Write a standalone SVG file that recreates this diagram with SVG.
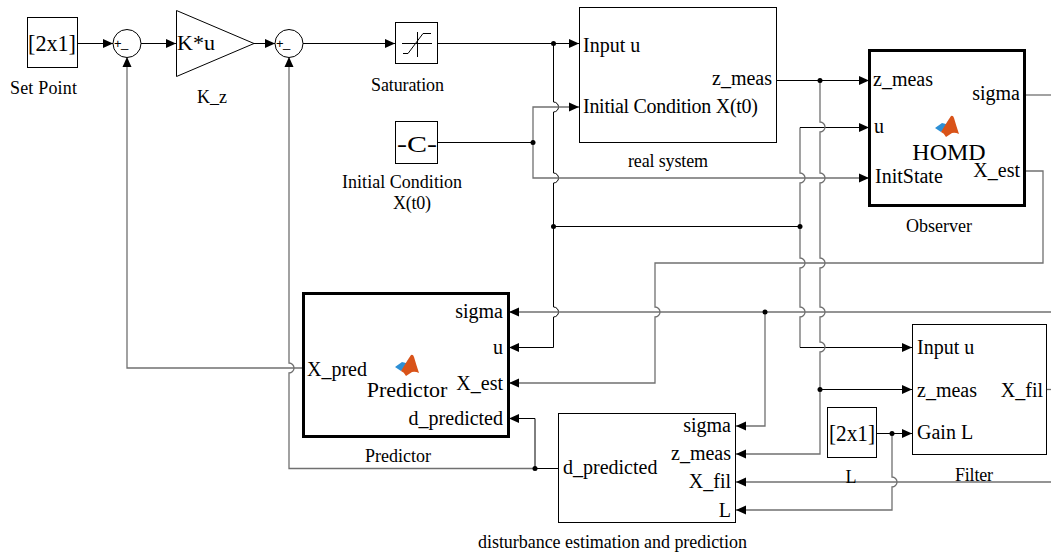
<svg xmlns="http://www.w3.org/2000/svg" width="1051" height="557" viewBox="0 0 1051 557" font-family="'Liberation Serif','Times New Roman',serif">
<style>
.ln{fill:none;stroke:#000;stroke-width:1}
.lg{fill:none;stroke:#707070;stroke-width:1.3}
.blk{fill:#fff;stroke:#000;stroke-width:1}
.thk{fill:#fff;stroke:#000;stroke-width:3}
.dot{fill:#000}
text{font-family:"Liberation Serif","Times New Roman",serif;fill:#000}
.p{font-size:20px}
.n{font-size:18px}
.r{text-anchor:end}
.m{text-anchor:middle}
.s{font-family:"Liberation Sans",Arial,sans-serif;font-size:13px}
</style>
<defs>
<marker id="ah" markerUnits="userSpaceOnUse" markerWidth="10" markerHeight="10" viewBox="0 0 10 10" refX="10" refY="5" orient="auto"><path d="M0,0.5 L10,5 L0,9.5Z" fill="#000"/></marker>
<g id="ml">
<path d="M0,13 L7,8 L11,9 L14,4 L9,14 L6,17Z" fill="#2d8fd5"/>
<path d="M6,17 L14,4 L16,1 Q18,0 19,3 Q21,10 24,19 Q20,17 17,18 Q14,20 11,22 Q9,18 6,17Z" fill="#d95319"/>
</g>
</defs>

<g id="connectors">
<path class="ln" d="M78,43.5 H113" marker-end="url(#ah)"/>
<path class="ln" d="M141,43.5 H176" marker-end="url(#ah)"/>
<path class="ln" d="M254,43.5 H275" marker-end="url(#ah)"/>
<path class="ln" d="M303,43.5 H395" marker-end="url(#ah)"/>
<path class="ln" d="M438,43.5 H579" marker-end="url(#ah)"/>
<path class="ln" d="M553.5,43.5 V102 A5,5 0 0 1 553.5,112 V173 A5,5 0 0 1 553.5,183 V307 A5,5 0 0 1 553.5,317 V347.5 H509" marker-end="url(#ah)"/>
<path class="ln" d="M553.5,226.5 H800"/>
<path class="ln" d="M777,80.5 H869" marker-end="url(#ah)"/>
<path class="lg" d="M800,226.5 V183 A5,5 0 0 0 800,173 V127.5"/>
<path class="ln" d="M800,127.5 H869" marker-end="url(#ah)"/>
<path class="lg" d="M800,226.5 V258 A5,5 0 0 1 800,268 V307 A5,5 0 0 1 800,317 V347.5"/>
<path class="ln" d="M800,347.5 H912" marker-end="url(#ah)"/>
<path class="ln" d="M438,142.5 H533"/>
<path class="lg" d="M533,142.5 V107 H579" marker-end="url(#ah)"/>
<path class="lg" d="M533,142.5 V178 H869" marker-end="url(#ah)"/>
<path class="lg" d="M820,80.5 V122 A5,5 0 0 1 820,132 V173 A5,5 0 0 1 820,183 V258 A5,5 0 0 1 820,268 V307 A5,5 0 0 1 820,317 V342 A5,5 0 0 1 820,352 V454 H736" marker-end="url(#ah)"/>
<path class="ln" d="M820,389.5 H912" marker-end="url(#ah)"/>
<path class="lg" d="M1025,95 H1051"/>
<path class="lg" d="M1051,312 H509" marker-end="url(#ah)"/>
<path class="lg" d="M765,312 V426 H736" marker-end="url(#ah)"/>
<path class="lg" d="M1025,171 H1043 V263 H655 V307 A5,5 0 0 1 655,317 V383 H509" marker-end="url(#ah)"/>
<path class="lg" d="M303,368 H127 V57" marker-end="url(#ah)"/>
<path class="ln" d="M558,468.5 H535"/>
<path class="ln" d="M535,468.5 V418.5 H509" marker-end="url(#ah)"/>
<path class="lg" d="M535,468.5 H289 V373 A5,5 0 0 0 289,363 V57" marker-end="url(#ah)"/>
<path class="lg" d="M1047,389.5 H1051"/>
<path class="lg" d="M1051,482 H736" marker-end="url(#ah)"/>
<path class="ln" d="M877,433.5 H912" marker-end="url(#ah)"/>
<path class="lg" d="M892,433.5 V477 A5,5 0 0 1 892,487 V510 H736" marker-end="url(#ah)"/>
<circle class="dot" cx="553.5" cy="43.5" r="2.5"/>
<circle class="dot" cx="533" cy="142.5" r="2.5"/>
<circle class="dot" cx="553.5" cy="226.5" r="2.5"/>
<circle class="dot" cx="800" cy="226.5" r="2.5"/>
<circle class="dot" cx="820" cy="80.5" r="2.5"/>
<circle class="dot" cx="765" cy="312" r="2.5"/>
<circle class="dot" cx="820" cy="389.5" r="2.5"/>
<circle class="dot" cx="535" cy="468.5" r="2.5"/>
<circle class="dot" cx="892" cy="433.5" r="2.5"/>
<text class="n m" x="851" y="483">L</text>
</g>

<g id="setpoint">
<rect class="blk" x="27.5" y="17.5" width="50" height="50"/>
<text x="28" y="51" font-size="24" textLength="48" lengthAdjust="spacingAndGlyphs">[2x1]</text>
<text class="n" x="10" y="94" textLength="67">Set Point</text>
</g>

<g id="sum1">
<circle class="blk" cx="127" cy="43.5" r="14"/>
<text class="s" x="114" y="48">+</text>
<text class="s" x="121" y="47">_</text>
</g>

<g id="gain">
<path class="blk" d="M176.5,10.5 L254,43.5 L176.5,76.5Z"/>
<text x="177" y="50" font-size="22">K*u</text>
<text class="n" x="197" y="103" textLength="30">K_z</text>
</g>

<g id="sum2">
<circle class="blk" cx="289" cy="43.5" r="14"/>
<text class="s" x="276" y="48">+</text>
<text class="s" x="283" y="47">_</text>
</g>

<g id="saturation">
<rect class="blk" x="395.5" y="22.5" width="42" height="41"/>
<path class="ln" d="M402,43.5 H432 M417.5,32 V57 M403,53.5 H408 L423,33.5 H431"/>
<text class="n" x="371" y="91" textLength="73">Saturation</text>
</g>

<g id="initcond">
<rect class="blk" x="395.5" y="121.5" width="42" height="42"/>
<text x="397" y="152" font-size="24" textLength="40" lengthAdjust="spacingAndGlyphs">-C-</text>
<text class="n" x="342" y="188" textLength="120">Initial Condition</text>
<text class="n" x="393" y="209" textLength="38">X(t0)</text>
</g>

<g id="realsystem">
<rect class="blk" x="579.5" y="7.5" width="197" height="135"/>
<text class="p" x="583" y="52">Input u</text>
<text class="p" x="583" y="113" textLength="175">Initial Condition X(t0)</text>
<text class="p r" x="772" y="85">z_meas</text>
<text class="n" x="628" y="167" textLength="80">real system</text>
</g>

<g id="observer">
<rect class="thk" x="869.5" y="50.5" width="155" height="155"/>
<text class="p" x="873" y="86">z_meas</text>
<text class="p r" x="1020" y="100">sigma</text>
<text class="p" x="874" y="133">u</text>
<text class="p" x="875" y="183">InitState</text>
<text class="p r" x="1020" y="177">X_est</text>
<use href="#ml" x="935" y="115"/>
<text x="949" y="160" font-size="24" text-anchor="middle">HOMD</text>
<text class="n" x="906" y="232" textLength="66">Observer</text>
</g>

<g id="predictor">
<rect class="thk" x="303.5" y="293.5" width="205" height="143"/>
<text class="p r" x="503" y="318">sigma</text>
<text class="p r" x="503" y="354">u</text>
<text class="p r" x="503" y="390">X_est</text>
<text class="p r" x="503" y="425">d_predicted</text>
<text class="p" x="307" y="376">X_pred</text>
<use href="#ml" x="395" y="354"/>
<text x="407" y="397" font-size="22" text-anchor="middle">Predictor</text>
<text class="n" x="365" y="462" textLength="66">Predictor</text>
</g>

<g id="disturbance">
<rect class="blk" x="558.5" y="413.5" width="177" height="109"/>
<text class="p r" x="731" y="432">sigma</text>
<text class="p r" x="731" y="460">z_meas</text>
<text class="p r" x="731" y="488">X_fil</text>
<text class="p r" x="731" y="517">L</text>
<text class="p" x="563" y="474">d_predicted</text>
<text class="n" x="478" y="548" textLength="269">disturbance estimation and prediction</text>
</g>

<g id="gainL">
<rect class="blk" x="827.5" y="407.5" width="49" height="50"/>
<text x="829" y="441" font-size="24" textLength="46" lengthAdjust="spacingAndGlyphs">[2x1]</text>
</g>

<g id="filter">
<rect class="blk" x="912.5" y="324.5" width="134" height="130"/>
<text class="p" x="917" y="354">Input u</text>
<text class="p" x="917" y="397">z_meas</text>
<text class="p" x="917" y="439">Gain L</text>
<text class="p r" x="1043" y="397">X_fil</text>
<text class="n" x="955" y="481" textLength="38">Filter</text>
</g>
</svg>
